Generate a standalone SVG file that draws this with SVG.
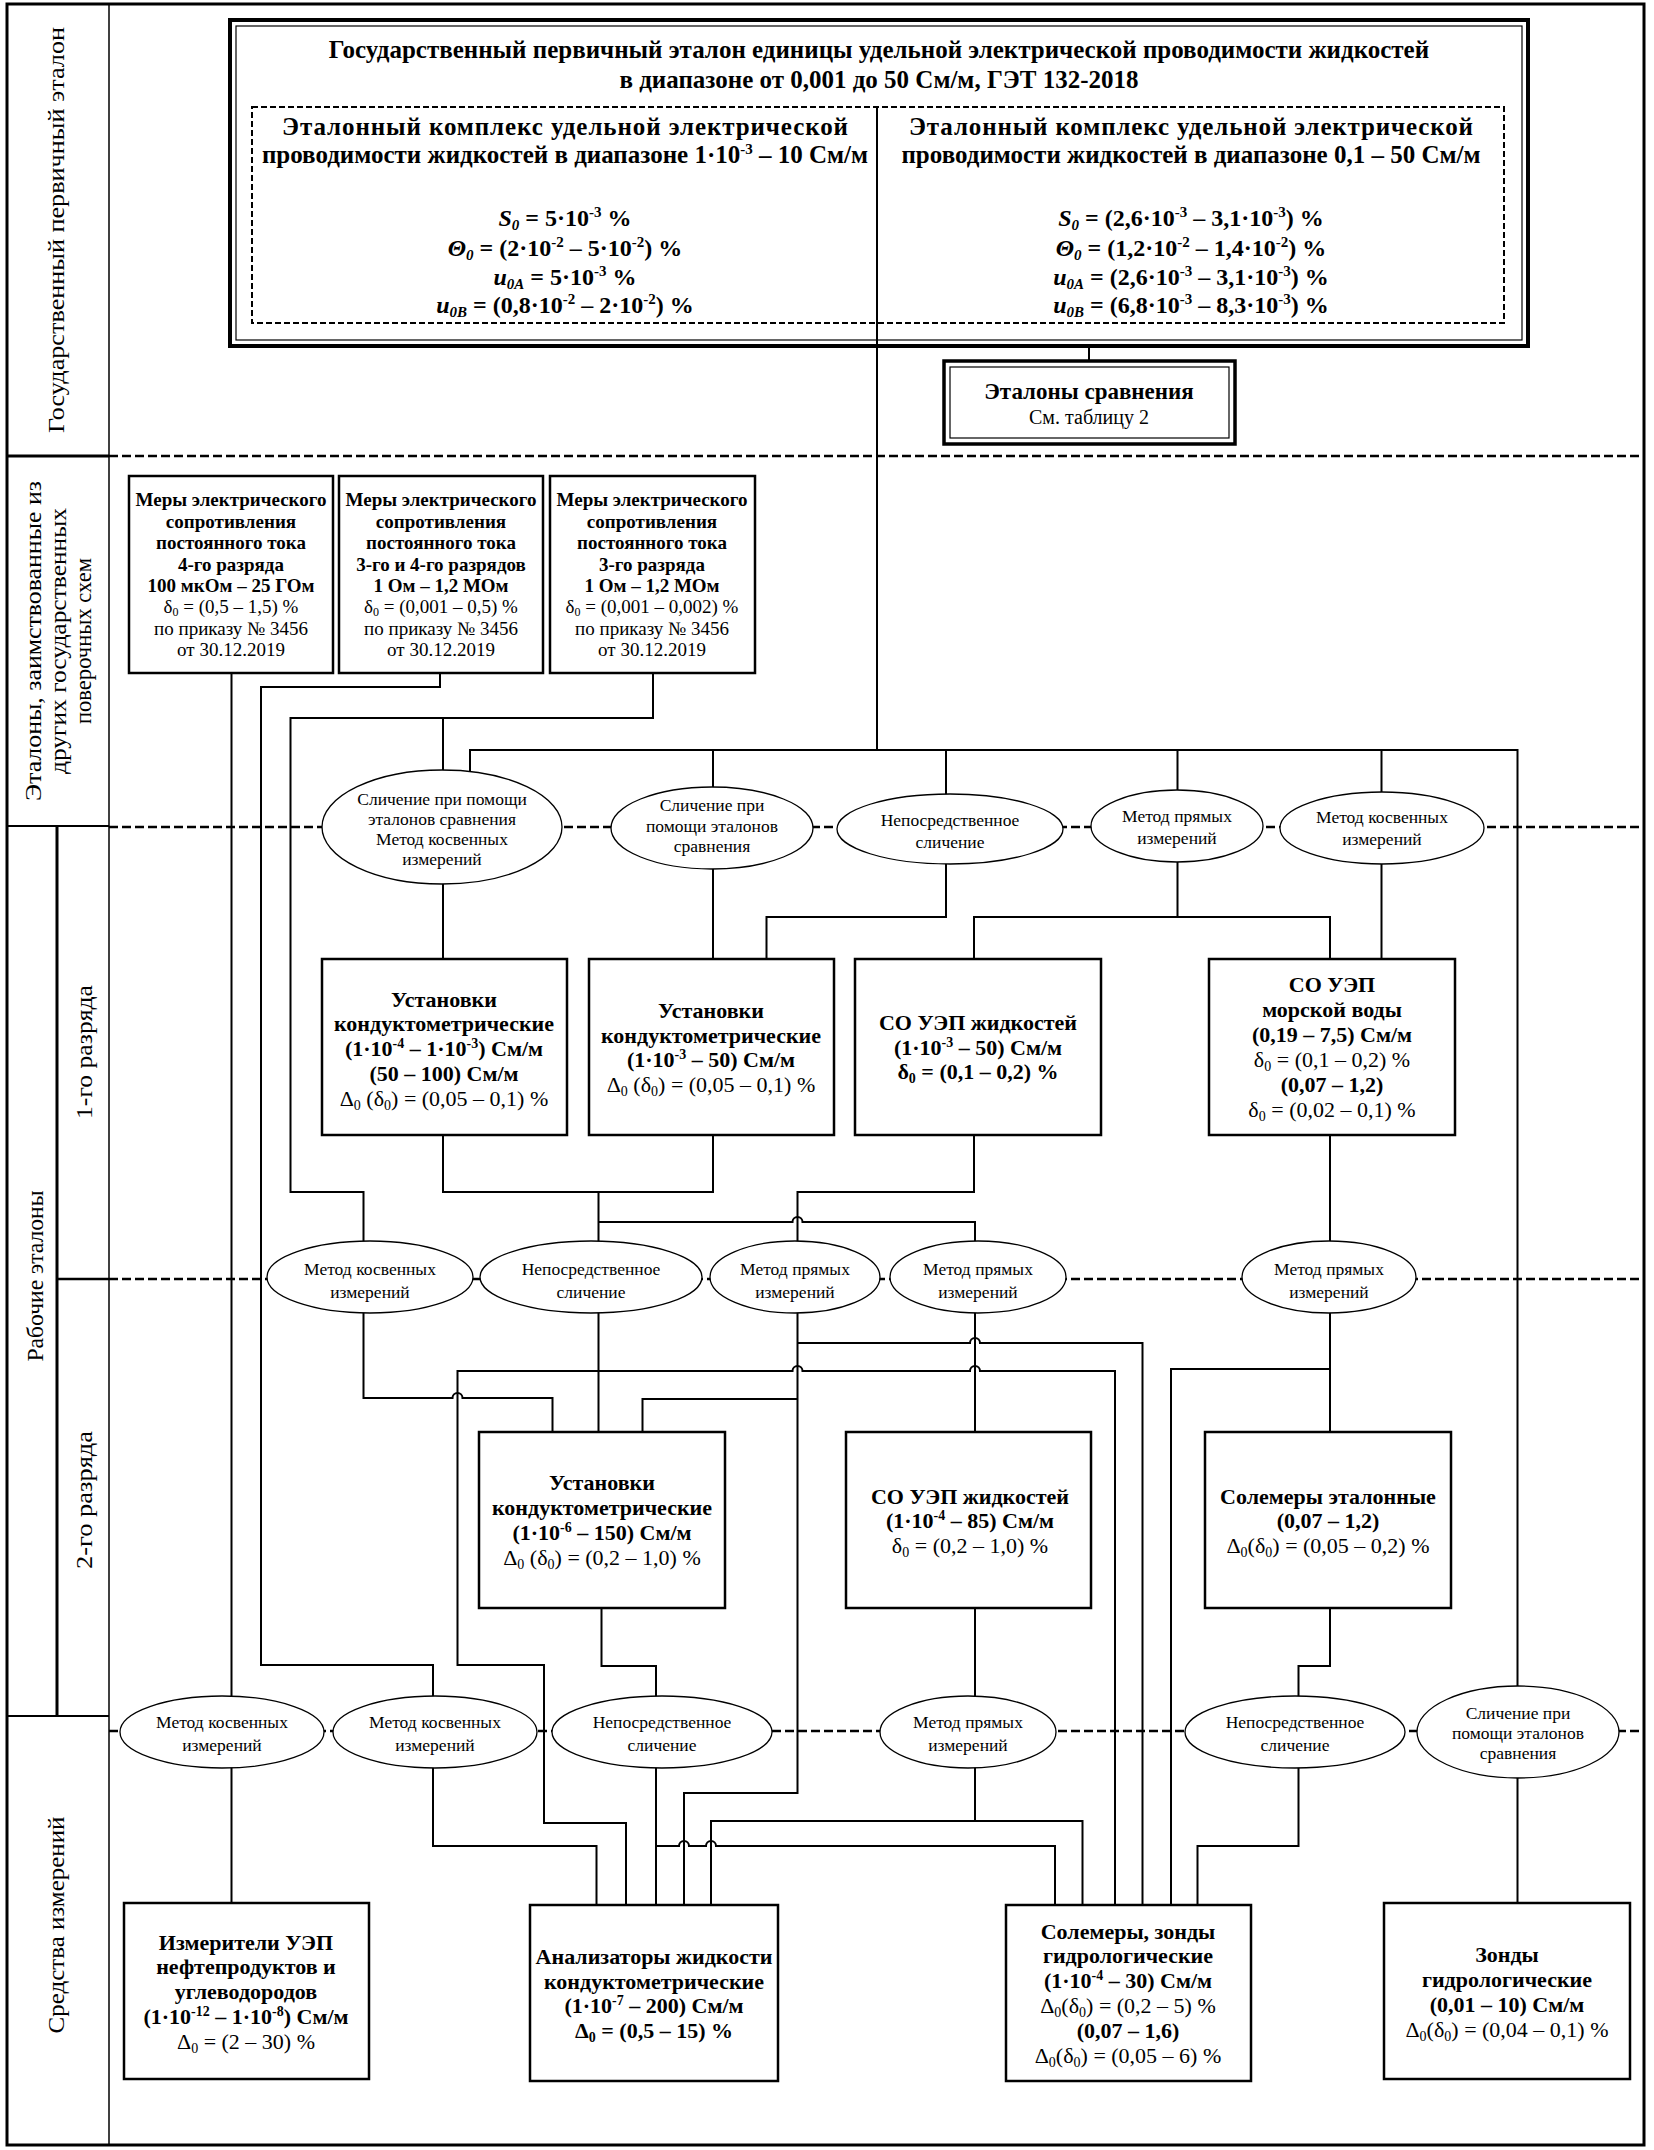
<svg xmlns="http://www.w3.org/2000/svg" width="1654" height="2150" viewBox="0 0 1654 2150">
<style>
.f{font-family:"Liberation Serif","Times New Roman",serif;text-anchor:middle;fill:#000}
.b{font-weight:bold}
.i{font-style:italic}
.s17{font-size:17.5px}
.s19{font-size:19px}
.s20{font-size:20px}
.s22{font-size:22px}
.s23{font-size:23px}
.s24{font-size:24px}
.s25{font-size:25px}
.sp{font-size:14px}
.sp2{font-size:12px}
.sp3{font-size:15px}
.box{fill:#fff;stroke:#000;stroke-width:2.5}
.ell{fill:#fff;stroke:#000;stroke-width:1.3}
.ln{fill:none;stroke:#000;stroke-width:2}
.dash{fill:none;stroke:#000;stroke-width:2.5;stroke-dasharray:9 4}
.frame{fill:none;stroke:#000}
</style>
<rect width="1654" height="2150" fill="#fff"/>

<!-- frame and label column -->
<g id="frame">
<rect class="frame" x="7" y="4" width="1637" height="2141" stroke-width="3"/>
<line class="frame" x1="109" y1="4" x2="109" y2="2145" stroke-width="1.5"/>
<line class="frame" x1="57" y1="826" x2="57" y2="1716" stroke-width="3"/>
<line class="frame" x1="7" y1="456" x2="109" y2="456" stroke-width="3"/>
<line class="frame" x1="7" y1="826" x2="109" y2="826" stroke-width="2"/>
<line class="frame" x1="57" y1="1279" x2="109" y2="1279" stroke-width="2.5"/>
<line class="frame" x1="7" y1="1716" x2="109" y2="1716" stroke-width="2"/>
<line class="dash" x1="109" y1="456" x2="1644" y2="456"/>
<line class="dash" x1="109" y1="827" x2="1644" y2="827"/>
<line class="dash" x1="109" y1="1279" x2="1644" y2="1279"/>
<line class="dash" x1="109" y1="1731" x2="1644" y2="1731"/>
</g>

<g id="labels">
<text class="f s23" x="64" y="230" transform="rotate(-90 64 230)" textLength="406" lengthAdjust="spacingAndGlyphs">Государственный первичный эталон</text>
<text class="f s23" x="41" y="641" transform="rotate(-90 41 641)" textLength="320" lengthAdjust="spacingAndGlyphs">Эталоны, заимствованные из</text>
<text class="f s23" x="66" y="641" transform="rotate(-90 66 641)" textLength="266" lengthAdjust="spacingAndGlyphs">других государственных</text>
<text class="f s23" x="91" y="641" transform="rotate(-90 91 641)" textLength="166" lengthAdjust="spacingAndGlyphs">поверочных схем</text>
<text class="f s23" x="43" y="1276" transform="rotate(-90 43 1276)" textLength="171" lengthAdjust="spacingAndGlyphs">Рабочие эталоны</text>
<text class="f s23" x="92" y="1052" transform="rotate(-90 92 1052)" textLength="134" lengthAdjust="spacingAndGlyphs">1-го разряда</text>
<text class="f s23" x="92" y="1500" transform="rotate(-90 92 1500)" textLength="138" lengthAdjust="spacingAndGlyphs">2-го разряда</text>
<text class="f s23" x="64" y="1925" transform="rotate(-90 64 1925)" textLength="217" lengthAdjust="spacingAndGlyphs">Средства измерений</text>
</g>

<!-- connectors -->
<g id="connectors">
<path class="ln" d="M877 107 V750"/>
<path class="ln" d="M1089 348 V360"/>
<path class="ln" d="M231.5 673 V1903"/>
<path class="ln" d="M440 673 V687 H261 V1665 H433 V1846 H596.5 V1905"/>
<path class="ln" d="M653 673 V718 H290.5 V1192 H363.5 V1398 H452.5 A5 5 0 0 1 462.5 1398 H552.5 V1432"/>
<path class="ln" d="M443 718 V959"/>
<path class="ln" d="M470 827 V750 H1517.5 V1903"/>
<path class="ln" d="M713 750 V959"/>
<path class="ln" d="M946 750 V917 H766.5 V959"/>
<path class="ln" d="M1177.5 750 V917 M974 959 V917 H1330 V959"/>
<path class="ln" d="M1381.5 750 V959"/>
<path class="ln" d="M443 1135 V1192 H713 V1135 M598.5 1192 V1432"/>
<path class="ln" d="M598.5 1222 H792.5 A5 5 0 0 1 802.5 1222 H975 V1432"/>
<path class="ln" d="M974 1135 V1192 H797.5 V1793 H684 V1905"/>
<path class="ln" d="M1330 1135 V1432"/>
<path class="ln" d="M1115 1905 V1371 H980 A5 5 0 0 0 970 1371 H802.5 A5 5 0 0 0 792.5 1371 H457.5 V1665 H544 V1823 H626 V1905"/>
<path class="ln" d="M797.5 1343 H970 A5 5 0 0 1 980 1343 H1142.5 V1905"/>
<path class="ln" d="M642.5 1432 V1399 H797.5"/>
<path class="ln" d="M1171 1905 V1369 H1330"/>
<path class="ln" d="M601.5 1608 V1666 H656 V1905"/>
<path class="ln" d="M975 1608 V1821 M711 1905 V1821 H1082.5 V1905"/>
<path class="ln" d="M656 1846 H679 A5 5 0 0 1 689 1846 H706 A5 5 0 0 1 716 1846 H1055 V1905"/>
<path class="ln" d="M1330 1608 V1666 H1298.5 V1846 H1197.5 V1905"/>
</g>

<!-- primary standard -->
<g id="primary">
<rect x="230" y="20" width="1298" height="326" fill="none" stroke="#000" stroke-width="4"/>
<rect x="236" y="26" width="1286" height="314" fill="none" stroke="#000" stroke-width="1.2"/>
<rect x="252" y="107" width="1252" height="216" fill="none" stroke="#000" stroke-width="2" stroke-dasharray="6 3"/>
<text class="f b s25" x="879" y="58">Государственный первичный эталон единицы удельной электрической проводимости жидкостей</text>
<text class="f b s25" x="879" y="88">в диапазоне от 0,001 до 50 См/м, ГЭТ 132-2018</text>
<text class="f b s25" x="565" y="135" textLength="566" lengthAdjust="spacing">Эталонный комплекс удельной электрической</text>
<text class="f b s25" x="565" y="163">проводимости жидкостей в диапазоне 1·10<tspan class="sp3" dy="-9">-3</tspan><tspan dy="9"> – 10 См/м</tspan></text>
<text class="f b s24" x="565" y="226"><tspan class="i">S</tspan><tspan class="sp3 i" dy="4">0</tspan><tspan dy="-4"> = 5·10</tspan><tspan class="sp3" dy="-9">-3</tspan><tspan dy="9"> %</tspan></text>
<text class="f b s24" x="565" y="256"><tspan class="i">Θ</tspan><tspan class="sp3 i" dy="4">0</tspan><tspan dy="-4"> = (2·10</tspan><tspan class="sp3" dy="-9">-2</tspan><tspan dy="9"> – 5·10</tspan><tspan class="sp3" dy="-9">-2</tspan><tspan dy="9">) %</tspan></text>
<text class="f b s24" x="565" y="285"><tspan class="i">u</tspan><tspan class="sp3 i" dy="4">0A</tspan><tspan dy="-4"> = 5·10</tspan><tspan class="sp3" dy="-9">-3</tspan><tspan dy="9"> %</tspan></text>
<text class="f b s24" x="565" y="313"><tspan class="i">u</tspan><tspan class="sp3 i" dy="4">0B</tspan><tspan dy="-4"> = (0,8·10</tspan><tspan class="sp3" dy="-9">-2</tspan><tspan dy="9"> – 2·10</tspan><tspan class="sp3" dy="-9">-2</tspan><tspan dy="9">) %</tspan></text>
<text class="f b s25" x="1191" y="135" textLength="564" lengthAdjust="spacing">Эталонный комплекс удельной электрической</text>
<text class="f b s25" x="1191" y="163">проводимости жидкостей в диапазоне 0,1 – 50 См/м</text>
<text class="f b s24" x="1191" y="226"><tspan class="i">S</tspan><tspan class="sp3 i" dy="4">0</tspan><tspan dy="-4"> = (2,6·10</tspan><tspan class="sp3" dy="-9">-3</tspan><tspan dy="9"> – 3,1·10</tspan><tspan class="sp3" dy="-9">-3</tspan><tspan dy="9">) %</tspan></text>
<text class="f b s24" x="1191" y="256"><tspan class="i">Θ</tspan><tspan class="sp3 i" dy="4">0</tspan><tspan dy="-4"> = (1,2·10</tspan><tspan class="sp3" dy="-9">-2</tspan><tspan dy="9"> – 1,4·10</tspan><tspan class="sp3" dy="-9">-2</tspan><tspan dy="9">) %</tspan></text>
<text class="f b s24" x="1191" y="285"><tspan class="i">u</tspan><tspan class="sp3 i" dy="4">0A</tspan><tspan dy="-4"> = (2,6·10</tspan><tspan class="sp3" dy="-9">-3</tspan><tspan dy="9"> – 3,1·10</tspan><tspan class="sp3" dy="-9">-3</tspan><tspan dy="9">) %</tspan></text>
<text class="f b s24" x="1191" y="313"><tspan class="i">u</tspan><tspan class="sp3 i" dy="4">0B</tspan><tspan dy="-4"> = (6,8·10</tspan><tspan class="sp3" dy="-9">-3</tspan><tspan dy="9"> – 8,3·10</tspan><tspan class="sp3" dy="-9">-3</tspan><tspan dy="9">) %</tspan></text>
</g>

<g id="comparison">
<rect x="944" y="361" width="291" height="83" fill="#fff" stroke="#000" stroke-width="3.5"/>
<rect x="950" y="367" width="279" height="71" fill="none" stroke="#000" stroke-width="1.2"/>
<text class="f b s23" x="1089" y="399">Эталоны сравнения</text>
<text class="f s20" x="1089" y="424">См. таблицу 2</text>
</g>

<!-- borrowed standards -->
<g id="boxA">
<rect class="box" x="129" y="476" width="204" height="197"/>
<text class="f b s19" x="231" y="506">Меры электрического</text>
<text class="f b s19" x="231" y="528">сопротивления</text>
<text class="f b s19" x="231" y="549">постоянного тока</text>
<text class="f b s19" x="231" y="571">4-го разряда</text>
<text class="f b s19" x="231" y="592">100 мкОм – 25 ГОм</text>
<text class="f s19" x="231" y="613">δ<tspan class="sp2" dy="3">0</tspan><tspan dy="-3"> = (0,5 – 1,5) %</tspan></text>
<text class="f s19" x="231" y="635">по приказу № 3456</text>
<text class="f s19" x="231" y="656">от 30.12.2019</text>
</g>
<g id="boxB">
<rect class="box" x="339" y="476" width="204" height="197"/>
<text class="f b s19" x="441" y="506">Меры электрического</text>
<text class="f b s19" x="441" y="528">сопротивления</text>
<text class="f b s19" x="441" y="549">постоянного тока</text>
<text class="f b s19" x="441" y="571">3-го и 4-го разрядов</text>
<text class="f b s19" x="441" y="592">1 Ом – 1,2 МОм</text>
<text class="f s19" x="441" y="613">δ<tspan class="sp2" dy="3">0</tspan><tspan dy="-3"> = (0,001 – 0,5) %</tspan></text>
<text class="f s19" x="441" y="635">по приказу № 3456</text>
<text class="f s19" x="441" y="656">от 30.12.2019</text>
</g>
<g id="boxC">
<rect class="box" x="550" y="476" width="205" height="197"/>
<text class="f b s19" x="652" y="506">Меры электрического</text>
<text class="f b s19" x="652" y="528">сопротивления</text>
<text class="f b s19" x="652" y="549">постоянного тока</text>
<text class="f b s19" x="652" y="571">3-го разряда</text>
<text class="f b s19" x="652" y="592">1 Ом – 1,2 МОм</text>
<text class="f s19" x="652" y="613">δ<tspan class="sp2" dy="3">0</tspan><tspan dy="-3"> = (0,001 – 0,002) %</tspan></text>
<text class="f s19" x="652" y="635">по приказу № 3456</text>
<text class="f s19" x="652" y="656">от 30.12.2019</text>
</g>

<!-- row 1 ellipses -->
<g id="e1"><ellipse class="ell" cx="442" cy="827" rx="120" ry="57"/>
<text class="f s17" x="442" y="805">Сличение при помощи</text>
<text class="f s17" x="442" y="825">эталонов сравнения</text>
<text class="f s17" x="442" y="845">Метод косвенных</text>
<text class="f s17" x="442" y="865">измерений</text></g>
<g id="e2"><ellipse class="ell" cx="712" cy="828" rx="101" ry="41"/>
<text class="f s17" x="712" y="811">Сличение при</text>
<text class="f s17" x="712" y="832">помощи эталонов</text>
<text class="f s17" x="712" y="852">сравнения</text></g>
<g id="e3"><ellipse class="ell" cx="950" cy="829" rx="113" ry="35"/>
<text class="f s17" x="950" y="826">Непосредственное</text>
<text class="f s17" x="950" y="848">сличение</text></g>
<g id="e4"><ellipse class="ell" cx="1177" cy="826" rx="86" ry="36"/>
<text class="f s17" x="1177" y="822">Метод прямых</text>
<text class="f s17" x="1177" y="844">измерений</text></g>
<g id="e5"><ellipse class="ell" cx="1382" cy="828" rx="102" ry="36"/>
<text class="f s17" x="1382" y="823">Метод косвенных</text>
<text class="f s17" x="1382" y="845">измерений</text></g>

<!-- 1st rank -->
<g id="boxD">
<rect class="box" x="322" y="959" width="245" height="176"/>
<text class="f b s22" x="444" y="1007">Установки</text>
<text class="f b s22" x="444" y="1031">кондуктометрические</text>
<text class="f b s22" x="444" y="1056">(1·10<tspan class="sp" dy="-8">-4</tspan><tspan dy="8"> – 1·10</tspan><tspan class="sp" dy="-8">-3</tspan><tspan dy="8">) См/м</tspan></text>
<text class="f b s22" x="444" y="1081">(50 – 100) См/м</text>
<text class="f s22" x="444" y="1106">Δ<tspan class="sp" dy="4">0</tspan><tspan dy="-4"> (δ</tspan><tspan class="sp" dy="4">0</tspan><tspan dy="-4">) = (0,05 – 0,1) %</tspan></text>
</g>
<g id="boxE">
<rect class="box" x="589" y="959" width="245" height="176"/>
<text class="f b s22" x="711" y="1018">Установки</text>
<text class="f b s22" x="711" y="1043">кондуктометрические</text>
<text class="f b s22" x="711" y="1067">(1·10<tspan class="sp" dy="-8">-3</tspan><tspan dy="8"> – 50) См/м</tspan></text>
<text class="f s22" x="711" y="1092">Δ<tspan class="sp" dy="4">0</tspan><tspan dy="-4"> (δ</tspan><tspan class="sp" dy="4">0</tspan><tspan dy="-4">) = (0,05 – 0,1) %</tspan></text>
</g>
<g id="boxF">
<rect class="box" x="855" y="959" width="246" height="176"/>
<text class="f b s22" x="978" y="1030">СО УЭП жидкостей</text>
<text class="f b s22" x="978" y="1055">(1·10<tspan class="sp" dy="-8">-3</tspan><tspan dy="8"> – 50) См/м</tspan></text>
<text class="f b s22" x="978" y="1079">δ<tspan class="sp" dy="4">0</tspan><tspan dy="-4"> = (0,1 – 0,2) %</tspan></text>
</g>
<g id="boxG">
<rect class="box" x="1209" y="959" width="246" height="176"/>
<text class="f b s22" x="1332" y="992">СО УЭП</text>
<text class="f b s22" x="1332" y="1017">морской воды</text>
<text class="f b s22" x="1332" y="1042">(0,19 – 7,5) См/м</text>
<text class="f s22" x="1332" y="1067">δ<tspan class="sp" dy="4">0</tspan><tspan dy="-4"> = (0,1 – 0,2) %</tspan></text>
<text class="f b s22" x="1332" y="1092">(0,07 – 1,2)</text>
<text class="f s22" x="1332" y="1117">δ<tspan class="sp" dy="4">0</tspan><tspan dy="-4"> = (0,02 – 0,1) %</tspan></text>
</g>

<!-- row 2 ellipses -->
<g id="f1"><ellipse class="ell" cx="370" cy="1277" rx="103" ry="36"/>
<text class="f s17" x="370" y="1275">Метод косвенных</text>
<text class="f s17" x="370" y="1298">измерений</text></g>
<g id="f2"><ellipse class="ell" cx="591" cy="1277" rx="111" ry="36"/>
<text class="f s17" x="591" y="1275">Непосредственное</text>
<text class="f s17" x="591" y="1298">сличение</text></g>
<g id="f3"><ellipse class="ell" cx="795" cy="1277" rx="85" ry="36"/>
<text class="f s17" x="795" y="1275">Метод прямых</text>
<text class="f s17" x="795" y="1298">измерений</text></g>
<g id="f4"><ellipse class="ell" cx="978" cy="1277" rx="88" ry="36"/>
<text class="f s17" x="978" y="1275">Метод прямых</text>
<text class="f s17" x="978" y="1298">измерений</text></g>
<g id="f5"><ellipse class="ell" cx="1329" cy="1277" rx="87" ry="36"/>
<text class="f s17" x="1329" y="1275">Метод прямых</text>
<text class="f s17" x="1329" y="1298">измерений</text></g>

<!-- 2nd rank -->
<g id="boxH">
<rect class="box" x="479" y="1432" width="246" height="176"/>
<text class="f b s22" x="602" y="1490">Установки</text>
<text class="f b s22" x="602" y="1515">кондуктометрические</text>
<text class="f b s22" x="602" y="1540">(1·10<tspan class="sp" dy="-8">-6</tspan><tspan dy="8"> – 150) См/м</tspan></text>
<text class="f s22" x="602" y="1565">Δ<tspan class="sp" dy="4">0</tspan><tspan dy="-4"> (δ</tspan><tspan class="sp" dy="4">0</tspan><tspan dy="-4">) = (0,2 – 1,0) %</tspan></text>
</g>
<g id="boxI">
<rect class="box" x="846" y="1432" width="245" height="176"/>
<text class="f b s22" x="970" y="1504">СО УЭП жидкостей</text>
<text class="f b s22" x="970" y="1528">(1·10<tspan class="sp" dy="-8">-4</tspan><tspan dy="8"> – 85) См/м</tspan></text>
<text class="f s22" x="970" y="1553">δ<tspan class="sp" dy="4">0</tspan><tspan dy="-4"> = (0,2 – 1,0) %</tspan></text>
</g>
<g id="boxJ">
<rect class="box" x="1205" y="1432" width="246" height="176"/>
<text class="f b s22" x="1328" y="1504">Солемеры эталонные</text>
<text class="f b s22" x="1328" y="1528">(0,07 – 1,2)</text>
<text class="f s22" x="1328" y="1553">Δ<tspan class="sp" dy="4">0</tspan><tspan dy="-4">(δ</tspan><tspan class="sp" dy="4">0</tspan><tspan dy="-4">) = (0,05 – 0,2) %</tspan></text>
</g>

<!-- row 3 ellipses -->
<g id="g1"><ellipse class="ell" cx="222" cy="1732" rx="102" ry="36"/>
<text class="f s17" x="222" y="1728">Метод косвенных</text>
<text class="f s17" x="222" y="1751">измерений</text></g>
<g id="g2"><ellipse class="ell" cx="435" cy="1732" rx="102" ry="36"/>
<text class="f s17" x="435" y="1728">Метод косвенных</text>
<text class="f s17" x="435" y="1751">измерений</text></g>
<g id="g3"><ellipse class="ell" cx="662" cy="1732" rx="110" ry="36"/>
<text class="f s17" x="662" y="1728">Непосредственное</text>
<text class="f s17" x="662" y="1751">сличение</text></g>
<g id="g4"><ellipse class="ell" cx="968" cy="1732" rx="88" ry="36"/>
<text class="f s17" x="968" y="1728">Метод прямых</text>
<text class="f s17" x="968" y="1751">измерений</text></g>
<g id="g5"><ellipse class="ell" cx="1295" cy="1732" rx="110" ry="36"/>
<text class="f s17" x="1295" y="1728">Непосредственное</text>
<text class="f s17" x="1295" y="1751">сличение</text></g>
<g id="g6"><ellipse class="ell" cx="1518" cy="1732" rx="101" ry="46"/>
<text class="f s17" x="1518" y="1719">Сличение при</text>
<text class="f s17" x="1518" y="1739">помощи эталонов</text>
<text class="f s17" x="1518" y="1759">сравнения</text></g>

<!-- measuring instruments -->
<g id="boxK">
<rect class="box" x="124" y="1903" width="245" height="176"/>
<text class="f b s22" x="246" y="1950">Измерители УЭП</text>
<text class="f b s22" x="246" y="1974">нефтепродуктов и</text>
<text class="f b s22" x="246" y="1999">углеводородов</text>
<text class="f b s22" x="246" y="2024">(1·10<tspan class="sp" dy="-8">-12</tspan><tspan dy="8"> – 1·10</tspan><tspan class="sp" dy="-8">-8</tspan><tspan dy="8">) См/м</tspan></text>
<text class="f s22" x="246" y="2049">Δ<tspan class="sp" dy="4">0</tspan><tspan dy="-4"> = (2 – 30) %</tspan></text>
</g>
<g id="boxL">
<rect class="box" x="530" y="1905" width="248" height="176"/>
<text class="f b s22" x="654" y="1964">Анализаторы жидкости</text>
<text class="f b s22" x="654" y="1989">кондуктометрические</text>
<text class="f b s22" x="654" y="2013">(1·10<tspan class="sp" dy="-8">-7</tspan><tspan dy="8"> – 200) См/м</tspan></text>
<text class="f b s22" x="654" y="2038">Δ<tspan class="sp" dy="4">0</tspan><tspan dy="-4"> = (0,5 – 15) %</tspan></text>
</g>
<g id="boxM">
<rect class="box" x="1006" y="1905" width="245" height="176"/>
<text class="f b s22" x="1128" y="1939">Солемеры, зонды</text>
<text class="f b s22" x="1128" y="1963">гидрологические</text>
<text class="f b s22" x="1128" y="1988">(1·10<tspan class="sp" dy="-8">-4</tspan><tspan dy="8"> – 30) См/м</tspan></text>
<text class="f s22" x="1128" y="2013">Δ<tspan class="sp" dy="4">0</tspan><tspan dy="-4">(δ</tspan><tspan class="sp" dy="4">0</tspan><tspan dy="-4">) = (0,2 – 5) %</tspan></text>
<text class="f b s22" x="1128" y="2038">(0,07 – 1,6)</text>
<text class="f s22" x="1128" y="2063">Δ<tspan class="sp" dy="4">0</tspan><tspan dy="-4">(δ</tspan><tspan class="sp" dy="4">0</tspan><tspan dy="-4">) = (0,05 – 6) %</tspan></text>
</g>
<g id="boxN">
<rect class="box" x="1384" y="1903" width="246" height="176"/>
<text class="f b s22" x="1507" y="1962">Зонды</text>
<text class="f b s22" x="1507" y="1987">гидрологические</text>
<text class="f b s22" x="1507" y="2012">(0,01 – 10) См/м</text>
<text class="f s22" x="1507" y="2037">Δ<tspan class="sp" dy="4">0</tspan><tspan dy="-4">(δ</tspan><tspan class="sp" dy="4">0</tspan><tspan dy="-4">) = (0,04 – 0,1) %</tspan></text>
</g>
</svg>
